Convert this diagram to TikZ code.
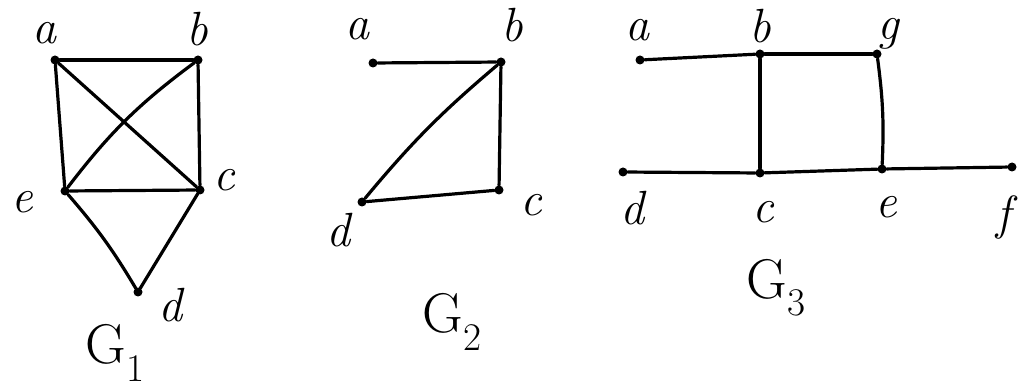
\documentclass[tikz,border=0pt]{standalone}
\usepackage{tikz}
\begin{document}
\begin{tikzpicture}[x=1pt,y=-1pt,
  vtx/.style={circle,fill=black,inner sep=0pt,minimum size=9pt},
  edge/.style={line width=3.2pt,line cap=round},
  lbl/.style={font=\fontsize{48}{48}\selectfont\itshape,inner sep=0pt},
  gname/.style={font=\fontsize{56}{56}\selectfont,inner sep=0pt}]
\useasboundingbox (0,0) rectangle (1021,387);
% G1
\node[vtx] (A1) at (55,60) {};
\node[vtx] (B1) at (198,60) {};
\node[vtx] (C1) at (200,190) {};
\node[vtx] (E1) at (65,191) {};
\node[vtx] (D1) at (138,292) {};
\draw[edge] (A1) -- (B1);
\draw[edge] (B1) -- (C1);
\draw[edge] (A1) -- (E1);
\draw[edge] (E1) -- (C1);
\draw[edge] (A1) -- (C1);
\draw[edge] (E1) to[bend left=8] (B1);
\draw[edge] (E1) to[bend left=5] (D1);
\draw[edge] (C1) -- (D1);
\node[lbl] (la1) at (44,33) {a};
\node[lbl] (lb1) at (197,29) {b};
\node[lbl] (lc1) at (224,180) {c};
\node[lbl] (le1) at (22,202) {e};
\node[lbl] (ld1) at (170,305) {d};
\node[gname] (g1) at (115,353) {G\textsubscript{1}};
% G2
\node[vtx] (A2) at (373,63) {};
\node[vtx] (B2) at (501,62) {};
\node[vtx] (C2) at (499,190) {};
\node[vtx] (D2) at (362,202) {};
\draw[edge] (A2) -- (B2);
\draw[edge] (B2) -- (C2);
\draw[edge] (C2) -- (D2);
\draw[edge] (D2) to[bend left=5] (B2);
\node[lbl] (la2) at (357,29) {a};
\node[lbl] (lb2) at (512,25) {b};
\node[lbl] (lc2) at (531,205) {c};
\node[lbl] (ld2) at (338,230) {d};
\node[gname] (g2) at (452,322) {G\textsubscript{2}};
% G3
\node[vtx] (A3) at (640,60) {};
\node[vtx] (B3) at (760,54) {};
\node[vtx] (G3) at (877,54) {};
\node[vtx] (D3) at (623,172) {};
\node[vtx] (C3) at (760,173) {};
\node[vtx] (E3) at (882,169) {};
\node[vtx] (F3) at (1012,167) {};
\draw[edge] (A3) -- (B3);
\draw[edge] (B3) -- (G3);
\draw[edge] (B3) -- (C3);
\draw[edge] (G3) to[bend left=5] (E3);
\draw[edge] (D3) -- (C3);
\draw[edge] (C3) -- (E3);
\draw[edge] (E3) -- (F3);
\node[lbl] (la3) at (637,30) {a};
\node[lbl] (lb3) at (760,26) {b};
\node[lbl] (lg3) at (888,34) {g};
\node[lbl] (ld3) at (632,208) {d};
\node[lbl] (lc3) at (763,212) {c};
\node[lbl] (le3) at (886,207) {e};
\node[lbl] (lf3) at (1004,218) {f};
\node[gname] (g3) at (776,288) {G\textsubscript{3}};
\end{tikzpicture}
\end{document}
